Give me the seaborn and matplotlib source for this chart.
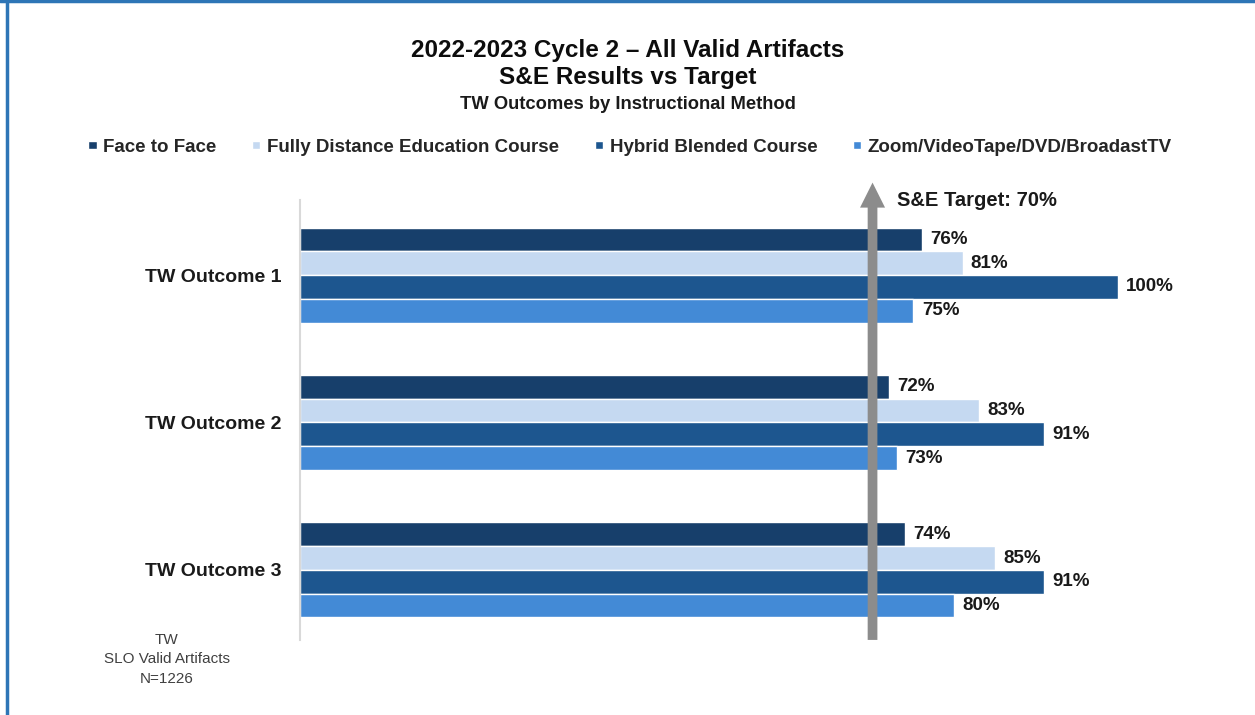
import pandas as pd
import matplotlib.pyplot as plt
import seaborn as sns
from matplotlib.lines import Line2D

sns.set_theme(style="white")
plt.rcParams['font.family'] = ['Liberation Sans', 'DejaVu Sans']

# data
outcomes = ['TW Outcome 1', 'TW Outcome 2', 'TW Outcome 3']
methods = ['Face to Face', 'Fully Distance Education Course',
           'Hybrid Blended Course', 'Zoom/VideoTape/DVD/BroadastTV']
face_to_face = [76, 72, 74]
fully_distance = [81, 83, 85]
hybrid = [100, 91, 91]
zoom = [75, 73, 80]
target = 70

colors = ['#173f6b', '#c5d9f1', '#1d568f', '#438ad6']

rows = []
for m, vals in zip(methods, [face_to_face, fully_distance, hybrid, zoom]):
    for o, v in zip(outcomes, vals):
        rows.append({'Outcome': o, 'Method': m, 'Pct': v})
df = pd.DataFrame(rows)

fig = plt.figure(figsize=(12.55, 7.15), dpi=100)
ax = fig.add_axes([0.239, 0.105, 0.73, 0.615])

sns.barplot(data=df, y='Outcome', x='Pct', hue='Method', order=outcomes,
            hue_order=methods, palette=colors, orient='h', width=0.645,
            saturation=1, ax=ax, legend=True)

for cont in ax.containers:
    ax.bar_label(cont, fmt='%d%%', padding=6, fontsize=13.5,
                 fontweight='bold', color='#1a1a1a')

ax.set_xlim(0, 112)
ax.set_ylim(2.475, -0.508)
ax.set_xlabel('')
ax.set_ylabel('')
ax.set_xticks([])
ax.tick_params(axis='y', length=0, pad=13.5)
for lbl in ax.get_yticklabels():
    lbl.set_fontsize(14)
    lbl.set_fontweight('bold')
    lbl.set_color('#1a1a1a')
for s in ['top', 'right', 'bottom']:
    ax.spines[s].set_visible(False)
ax.spines['left'].set_color('#d9d9d9')
ax.spines['left'].set_linewidth(1.5)

# target arrow
ax.annotate('', xy=(target, 1.04), xytext=(target, 0.0),
            xycoords=('data', 'axes fraction'),
            textcoords=('data', 'axes fraction'),
            arrowprops=dict(arrowstyle='simple,head_length=0.9,head_width=0.9,tail_width=0.35',
                            mutation_scale=20, facecolor='#8c8c8c', edgecolor='none',
                            shrinkA=0, shrinkB=0),
            annotation_clip=False)
ax.text(target + 3, 1.0, f'S&E Target: {target}%', transform=ax.get_xaxis_transform(),
        fontsize=14.5, fontweight='bold', color='#1a1a1a', va='center', ha='left')

# legend on top
handles, labels = ax.get_legend_handles_labels()
ax.get_legend().remove()
fig.legend(handles, labels, loc='center', bbox_to_anchor=(0.502, 0.794), ncol=4,
           frameon=False, handlelength=0.45, handleheight=0.3, handletextpad=0.35,
           columnspacing=1.9, prop={'weight': 'bold', 'size': 13.5})

# titles
fig.text(0.5, 0.929, '2022-2023 Cycle 2 \u2013 All Valid Artifacts', ha='center', va='center',
         fontsize=17.5, fontweight='bold', color='#0d0d0d')
fig.text(0.5, 0.891, 'S&E Results vs Target', ha='center', va='center',
         fontsize=17.5, fontweight='bold', color='#0d0d0d')
fig.text(0.5, 0.854, 'TW Outcomes by Instructional Method', ha='center', va='center',
         fontsize=13.2, fontweight='bold', color='#1a1a1a')

# note in lower left
fig.text(0.133, 0.078, 'TW\nSLO Valid Artifacts\nN=1226', ha='center', va='center',
         fontsize=11, color='#404040', linespacing=1.5)

# blue frame lines (left and top)
fig.add_artist(Line2D([0.0055, 0.0055], [0, 1], color='#2e75b6', lw=2.5, transform=fig.transFigure))
fig.add_artist(Line2D([0, 1], [0.999, 0.999], color='#2e75b6', lw=2.5, transform=fig.transFigure))

fig.savefig('out.png', dpi=100)
